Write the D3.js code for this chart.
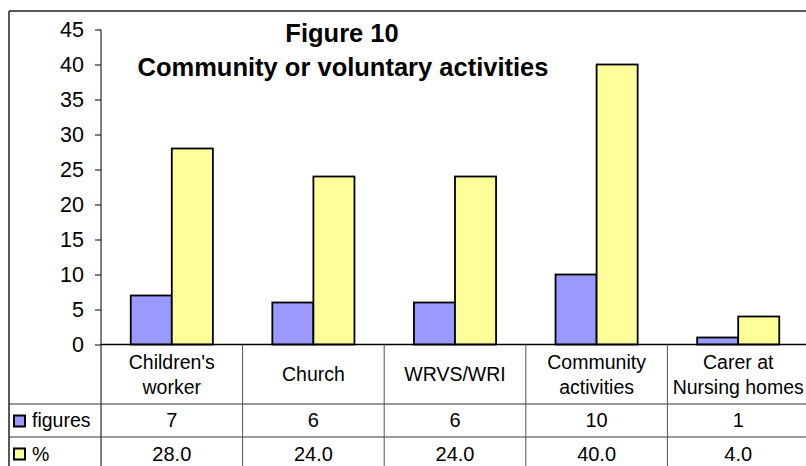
<!DOCTYPE html>
<html>
<head>
<meta charset="utf-8">
<script src="https://cdn.jsdelivr.net/npm/d3@7"></script>
<style>
  html, body { margin: 0; padding: 0; background: #fff; }
  svg { display: block; font-family: "Liberation Sans", Arial, Helvetica, sans-serif; }
</style>
</head>
<body>
<svg id="chart" width="806" height="466"></svg>
<script>
const categories = [["Children's", "worker"], ["Church"], ["WRVS/WRI"], ["Community", "activities"], ["Carer at", "Nursing homes"]];
const figures = [7, 6, 6, 10, 1];
const percents = [28.0, 24.0, 24.0, 40.0, 4.0];
const seriesNames = ["figures", "%"];
const seriesColors = ["#9999FF", "#FFFF99"];
const yTicks = [0, 5, 10, 15, 20, 25, 30, 35, 40, 45];
const titleLines = ["Figure 10", "Community or voluntary activities"];

const svg = d3.select("#chart");
const frameL = 9, frameT = 11;
const plotL = 101, plotR = 809;
const plotTop = 29.5, plotBottom = 344.5;
const rowCat = 404, rowFig = 437, rowPct = 470;

const catIdx = categories.map((d, i) => i);
const x = d3.scaleBand().domain(catIdx).range([plotL, plotR]).paddingInner(0).paddingOuter(0);
const sub = d3.scaleBand().domain([0, 1]).range([x.bandwidth() * 0.21, x.bandwidth() * 0.79]).padding(0);
const y = d3.scaleLinear().domain([0, 45]).range([plotBottom, plotTop]);

// outer frame
svg.append("line").attr("x1", frameL).attr("x2", 806).attr("y1", frameT).attr("y2", frameT)
  .attr("stroke", "#222").attr("stroke-width", 1.5);
svg.append("line").attr("x1", frameL).attr("x2", frameL).attr("y1", frameT).attr("y2", 466)
  .attr("stroke", "#222").attr("stroke-width", 1.5);

// bars
const series = [figures, percents];
series.forEach((vals, s) => {
  svg.append("g").selectAll("rect").data(vals).join("rect")
    .attr("x", (d, i) => x(i) + sub(s))
    .attr("y", d => y(d))
    .attr("width", sub.bandwidth())
    .attr("height", d => y(0) - y(d))
    .attr("fill", seriesColors[s])
    .attr("stroke", "#000")
    .attr("stroke-width", 1.8);
});

// y axis
const yAxis = d3.axisLeft(y).tickValues(yTicks).tickSize(6).tickPadding(11).tickFormat(d3.format("d"));
const gy = svg.append("g").attr("transform", `translate(${plotL},0)`).call(yAxis);
gy.attr("font-size", 21.5).attr("font-family", "Liberation Sans, Arial, sans-serif");
gy.select(".domain").remove();
gy.selectAll(".tick line").attr("stroke", "#000").attr("stroke-width", 1);
gy.selectAll(".tick text").attr("fill", "#000");
svg.append("line").attr("x1", plotL).attr("x2", plotL).attr("y1", plotTop).attr("y2", 466)
  .attr("stroke", "#000").attr("stroke-width", 1);

// horizontal base line
svg.append("line").attr("x1", plotL).attr("x2", 806).attr("y1", plotBottom).attr("y2", plotBottom)
  .attr("stroke", "#000").attr("stroke-width", 1.5);

// data table lines
[rowCat, rowFig].forEach(yy => {
  svg.append("line").attr("x1", frameL).attr("x2", 806).attr("y1", yy).attr("y2", yy)
    .attr("stroke", "#333").attr("stroke-width", 1);
});
catIdx.slice(1).forEach(i => {
  svg.append("line").attr("x1", x(i)).attr("x2", x(i)).attr("y1", plotBottom).attr("y2", 466)
    .attr("stroke", "#555").attr("stroke-width", 1);
});

// category labels
const catG = svg.append("g");
categories.forEach((lines, i) => {
  const cx = x(i) + x.bandwidth() / 2;
  const mid = (plotBottom + rowCat) / 2;
  const lh = 24.5;
  const first = mid + 7 - (lines.length - 1) * lh / 2;
  lines.forEach((t, k) => {
    catG.append("text").attr("x", cx).attr("y", first + k * lh)
      .attr("text-anchor", "middle").attr("font-size", 19.5).attr("fill", "#000").text(t);
  });
});

// table values
const fmtPct = d3.format(".1f");
figures.forEach((v, i) => {
  svg.append("text").attr("x", x(i) + x.bandwidth() / 2).attr("y", 427)
    .attr("text-anchor", "middle").attr("font-size", 20).attr("fill", "#000").text(v);
});
percents.forEach((v, i) => {
  svg.append("text").attr("x", x(i) + x.bandwidth() / 2).attr("y", 460.5)
    .attr("text-anchor", "middle").attr("font-size", 20).attr("fill", "#000").text(fmtPct(v));
});

// legend keys in table
const rowYs = [(rowCat + rowFig) / 2, (rowFig + rowPct) / 2];
seriesNames.forEach((n, s) => {
  svg.append("rect").attr("x", 14).attr("y", rowYs[s] - 5).attr("width", 11).attr("height", 11)
    .attr("fill", seriesColors[s]).attr("stroke", "#000").attr("stroke-width", 2);
  svg.append("text").attr("x", 32).attr("y", [427, 460.5][s])
    .attr("font-size", 19.5).attr("fill", "#000").text(n);
});

// title
svg.append("text").attr("x", 342).attr("y", 41.5).attr("text-anchor", "middle")
  .attr("font-size", 25.5).attr("font-weight", "bold").attr("fill", "#000").text(titleLines[0]);
svg.append("text").attr("x", 343).attr("y", 76).attr("text-anchor", "middle")
  .attr("font-size", 25.5).attr("font-weight", "bold").attr("fill", "#000").text(titleLines[1]);
</script>
</body>
</html>
